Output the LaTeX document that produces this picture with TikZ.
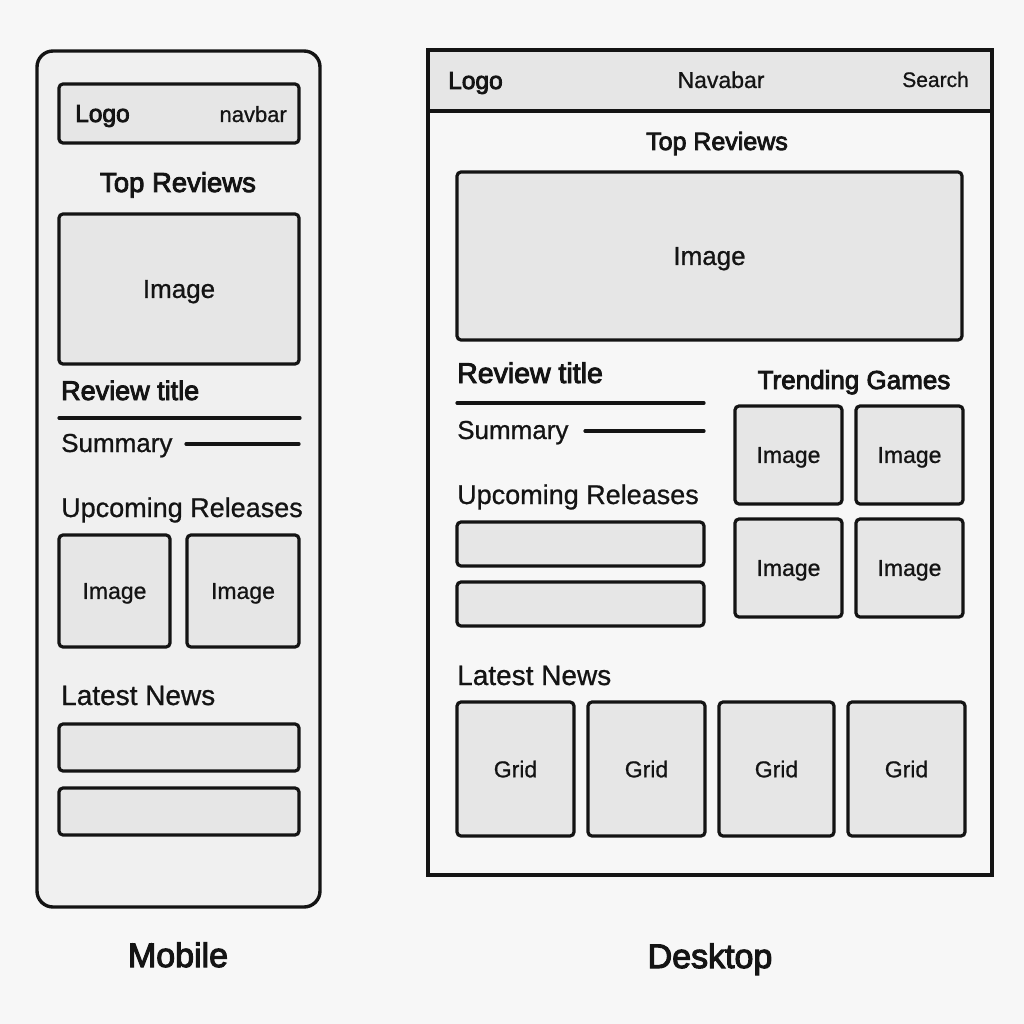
\documentclass[tikz,border=0pt]{standalone}
\usepackage{fontspec}
\setmainfont[FakeBold=0.8]{Liberation Sans}
\newfontfamily\medfont[FakeBold=3.2]{Liberation Sans}
\definecolor{pagebg}{HTML}{F7F7F7}
\definecolor{phonebg}{HTML}{F0F0F0}
\definecolor{boxfill}{HTML}{E6E6E6}
\definecolor{ink}{HTML}{141414}
\newcommand{\fs}[1]{\fontsize{#1}{#1}\selectfont}
\tikzset{
  wire/.style={draw=ink, line width=3.2pt, line cap=round},
  box/.style={draw=ink, fill=boxfill, line width=3.2pt, rounded corners=4pt,
    inner sep=0pt, text depth=0pt, text=ink},
  lbl/.style={inner sep=0pt, text=ink},
  hmed/.style={lbl, font=\medfont\fs{#1}},
  hreg/.style={lbl, font=\fs{#1}},
}
\begin{document}
\begin{tikzpicture}[x=1pt, y=-1pt]
  % page
  \fill[pagebg] (0,0) rectangle (1024,1024);
  \useasboundingbox (0,0) rectangle (1024,1024);

  % ---------------- mobile layout ----------------
  \node[draw=ink, fill=phonebg, line width=3.4pt, rounded corners=16pt,
        minimum width=283, minimum height=856, inner sep=0pt] (mobile) at (178.5,479) {};
  \node[box, minimum width=240, minimum height=59] (mnav) at (179,113.5) {};
  \node[hmed=24.5, anchor=base west] (mlogo) at (75,122) {Logo};
  \node[hreg=22, anchor=base east] (mnavtxt) at (287,122) {navbar};
  \node[hmed=27.5, anchor=base] (mtop) at (178,192) {Top Reviews};
  \node[box, minimum width=240, minimum height=150, font=\fs{26}] (mimg) at (179,289) {Image};
  \node[hmed=27, anchor=base west] (mrtitle) at (61,400) {Review title};
  \coordinate (mt1) at (59,418); \coordinate (mt2) at (300,418);
  \draw[wire] (mt1) -- (mt2);
  \node[hreg=26, anchor=base west] (msum) at (61,452) {Summary};
  \coordinate (ms1) at (186,444); \coordinate (ms2) at (299,444);
  \draw[wire] (ms1) -- (ms2);
  \node[hreg=27, anchor=base west] (mup) at (61,517) {Upcoming Releases};
  \node[box, minimum width=111, minimum height=112, font=\fs{23}] (mimgA) at (114.5,591) {Image};
  \node[box, minimum width=112, minimum height=112, font=\fs{23}] (mimgB) at (243,591) {Image};
  \node[hreg=28, anchor=base west] (mnews) at (61,705) {Latest News};
  \node[box, minimum width=240, minimum height=47] (mbar1) at (179,747.5) {};
  \node[box, minimum width=240, minimum height=47] (mbar2) at (179,811.5) {};
  \node[hmed=34, anchor=base] (mlabel) at (178,967) {Mobile};

  % ---------------- desktop layout ----------------
  \coordinate (dtl) at (428,50); \coordinate (dbr) at (992,875);
  \coordinate (dnl) at (428,111); \coordinate (dnr) at (992,111);
  \fill[boxfill] (dtl) rectangle (dnr);
  \draw[draw=ink, line width=3.4pt] (dtl) rectangle (dbr);
  \draw[draw=ink, line width=3.4pt] (dnl) -- (dnr);
  \node[hmed=24.5, anchor=base west] (dlogo) at (448,89) {Logo};
  \node[hreg=23, anchor=base] (dnav) at (721,88) {Navabar};
  \node[hreg=21, anchor=base east] (dsearch) at (969,87) {Search};
  \node[hmed=25, anchor=base] (dtop) at (717,150) {Top Reviews};
  \node[box, minimum width=505, minimum height=168, font=\fs{26}] (dimg) at (709.5,256) {Image};
  \node[hmed=28.5, anchor=base west] (drtitle) at (457,383) {Review title};
  \coordinate (dt1) at (457,403); \coordinate (dt2) at (704,403);
  \draw[wire] (dt1) -- (dt2);
  \node[hreg=26, anchor=base west] (dsum) at (457,439) {Summary};
  \coordinate (ds1) at (585,431); \coordinate (ds2) at (704,431);
  \draw[wire] (ds1) -- (ds2);
  \node[hreg=27, anchor=base west] (dup) at (457,504) {Upcoming Releases};
  \node[box, minimum width=247, minimum height=44] (dbar1) at (580.5,544) {};
  \node[box, minimum width=247, minimum height=44] (dbar2) at (580.5,604) {};
  \node[hmed=26, anchor=base] (dtrend) at (854,389) {Trending Games};
  \node[box, minimum width=107, minimum height=98, font=\fs{23}] (tg1) at (788.5,455) {Image};
  \node[box, minimum width=107, minimum height=98, font=\fs{23}] (tg2) at (909.5,455) {Image};
  \node[box, minimum width=107, minimum height=98, font=\fs{23}] (tg3) at (788.5,568) {Image};
  \node[box, minimum width=107, minimum height=98, font=\fs{23}] (tg4) at (909.5,568) {Image};
  \node[hreg=28, anchor=base west] (dnews) at (457,685) {Latest News};
  \node[box, minimum width=117, minimum height=134, font=\fs{23}] (g1) at (515.5,769) {Grid};
  \node[box, minimum width=117, minimum height=134, font=\fs{23}] (g2) at (646.5,769) {Grid};
  \node[box, minimum width=115, minimum height=134, font=\fs{23}] (g3) at (776.5,769) {Grid};
  \node[box, minimum width=117, minimum height=134, font=\fs{23}] (g4) at (906.5,769) {Grid};
  \node[hmed=34, anchor=base] (dlabel) at (710,968) {Desktop};
\end{tikzpicture}
\end{document}
